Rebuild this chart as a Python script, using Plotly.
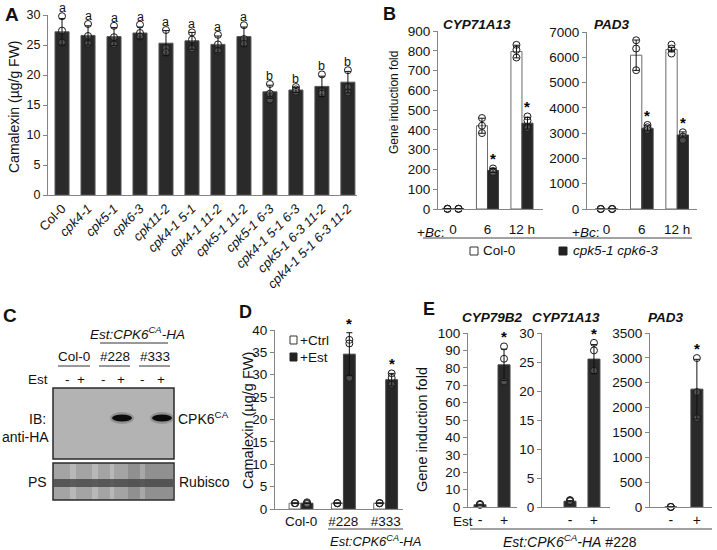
import plotly.graph_objects as go

W, H = 717, 550
FONT = "Liberation Sans, Arial, sans-serif"
TXT = "#111111"
AX = "#858585"

def px(x):
    return x / W

def py(y):
    return 1 - y / H

# ---------------- DATA ----------------
# Panel A
A_genotypes = ["Col-0", "cpk4-1", "cpk5-1", "cpk6-3", "cpk11-2", "cpk4-1 5-1", "cpk4-1 11-2",
               "cpk5-1 11-2", "cpk5-1 6-3", "cpk4-1 5-1 6-3", "cpk5-1 6-3 11-2", "cpk4-1 5-1 6-3 11-2"]
A_mean = [27.2, 26.6, 26.4, 27.0, 25.3, 25.7, 25.1, 26.4, 17.2, 17.5, 18.1, 18.8]
A_err = [2.2, 1.6, 1.5, 1.0, 2.1, 1.4, 1.4, 1.6, 1.1, 0.4, 1.7, 1.8]
A_reps = [[29.8, 27.4, 25.4], [28.5, 26.5, 25.2], [28.2, 26.3, 25.1], [28.4, 27.0, 26.4],
          [27.5, 24.5, 23.8], [27.1, 25.9, 24.4], [26.7, 25.1, 24.0], [28.3, 26.0, 25.2],
          [18.5, 16.9, 15.9], [18.0, 17.6, 17.2], [20.1, 17.3, 16.9], [20.8, 18.0, 17.1]]
A_letters = ["a", "a", "a", "a", "a", "a", "a", "a", "b", "b", "b", "b"]

# Panel B
B_times = ["0", "6", "12 h"]
B_genes = ["CYP71A13", "PAD3"]
B_col_mean = {"CYP71A13": [1, 421, 796], "PAD3": [1, 6082, 6306]}
B_col_err = {"CYP71A13": [0, 38, 32], "PAD3": [0, 600, 90]}
B_col_reps = {"CYP71A13": [[1, 1, 1], [460, 421, 384], [830, 805, 766]],
              "PAD3": [[1, 1, 1], [6673, 6346, 5491], [6500, 6346, 6149]]}
B_mut_mean = {"CYP71A13": [1, 195, 434], "PAD3": [1, 3193, 2929]}
B_mut_err = {"CYP71A13": [0, 10, 30], "PAD3": [0, 100, 120]}
B_mut_reps = {"CYP71A13": [[1, 1, 1], [205, 192, 185], [468, 447, 409]],
              "PAD3": [[1, 1, 1], [3324, 3232, 3127], [3034, 2863, 2731]]}
B_mut_sig = [False, True, True]
B_legend = ["Col-0", "cpk5-1 cpk6-3"]

# Panel C (western blot lanes)
C_lines = ["Col-0", "#228", "#333"]
C_est = ["-", "+", "-", "+", "-", "+"]

# Panel D
D_lines = ["Col-0", "#228", "#333"]
D_ctrl_mean = [1.3, 1.3, 1.3]
D_ctrl_err = [0.1, 0.1, 0.1]
D_ctrl_reps = [[1.3, 1.3, 1.3], [1.3, 1.3, 1.3], [1.3, 1.3, 1.3]]
D_est_mean = [1.3, 34.6, 28.9]
D_est_err = [0.1, 4.8, 1.4]
D_est_reps = [[1.5, 1.3, 1.1], [37.8, 37.0, 29.3], [30.3, 29.3, 27.8]]
D_sig = [False, True, True]
D_legend = ["+Ctrl", "+Est"]

# Panel E
E_genes = ["CYP79B2", "CYP71A13", "PAD3"]
E_est = ["-", "+"]
E_minus_mean = [1.3, 1.0, 1.0]
E_minus_err = [0.3, 0.1, 0.0]
E_minus_reps = [[1.7, 1.5, 1.2], [1.2, 1.1, 1.0], [1, 1, 1]]
E_plus_mean = [81.7, 25.5, 2371]
E_plus_err = [9.0, 2.5, 600]
E_plus_reps = [[92.3, 85.2, 72.1], [28.3, 27.0, 23.5], [2996, 2311, 1787]]
E_ymax = [100, 30, 3500]
E_dtick = [10, 5, 500]

# ---------------- FIGURE ----------------
fig = go.Figure()
layout_axes = {}
annotations = []
shapes = []

def axis_setup(n, xdom, ydom, xrange, yrange, dtick, tickvals, ticktext, xfont=13, yfont=12,
               tickangle=0, standoff=None):
    xs = "xaxis" if n == 1 else f"xaxis{n}"
    ys = "yaxis" if n == 1 else f"yaxis{n}"
    xa = "x" if n == 1 else f"x{n}"
    ya = "y" if n == 1 else f"y{n}"
    xd = dict(domain=[px(xdom[0]), px(xdom[1])], range=xrange, anchor=ya, showgrid=False,
              zeroline=False, showline=True, linecolor=AX, linewidth=1, ticks="",
              tickvals=tickvals, ticktext=ticktext, tickangle=tickangle, automargin=False,
              tickfont=dict(family=FONT, size=xfont, color=TXT), fixedrange=True)
    if standoff is not None:
        xd["ticklabelstandoff"] = standoff
    layout_axes[xs] = xd
    layout_axes[ys] = dict(domain=[py(ydom[1]), py(ydom[0])], range=yrange, anchor=xa,
                           showgrid=False, zeroline=False, showline=True, linecolor=AX,
                           linewidth=1, ticks="outside", ticklen=4, tickwidth=1, tickcolor=AX,
                           dtick=dtick, tick0=0, automargin=False,
                           tickfont=dict(family=FONT, size=yfont, color=TXT), fixedrange=True)
    return xa, ya

def bars(xa, ya, xs, vals, fill, line, width):
    fig.add_trace(go.Bar(x=xs, y=vals, width=width, xaxis=xa, yaxis=ya, showlegend=False,
                         marker=dict(color=fill, line=dict(color=line, width=1))))

def points(xa, ya, xs, reps):
    xx, yy = [], []
    for x, r in zip(xs, reps):
        for v in r:
            xx.append(x)
            yy.append(v)
    fig.add_trace(go.Scatter(x=xx, y=yy, mode="markers", xaxis=xa, yaxis=ya, showlegend=False,
                             cliponaxis=False,
                             marker=dict(symbol="circle", size=7, color="rgba(255,255,255,0.18)",
                                         line=dict(color="#1a1a1a", width=1))))

def errs(xa, ya, xs, vals, e):
    fig.add_trace(go.Scatter(x=xs, y=vals, mode="markers", xaxis=xa, yaxis=ya, showlegend=False,
                             cliponaxis=False, marker=dict(size=1, color="rgba(0,0,0,0)"),
                             error_y=dict(type="data", array=e, visible=True, color="#111",
                                          thickness=1, width=3)))

def note(x, y, text, size=13, xref="paper", yref="paper", xanchor="center", yanchor="middle",
         yshift=0, angle=0, color=TXT, pad=1):
    annotations.append(dict(x=x, y=y, xref=xref, yref=yref, text=text, showarrow=False,
                            xanchor=xanchor, yanchor=yanchor, yshift=yshift, textangle=angle,
                            borderpad=pad, font=dict(family=FONT, size=size, color=color)))

def star(xa, ya, x, top):
    note(x, top, "<b>*</b>", size=15, xref=xa, yref=ya, yanchor="bottom", yshift=-1,
         color="#000000")

def line(x0, x1, y, color="#333", width=1):
    shapes.append(dict(type="line", xref="paper", yref="paper", x0=px(x0), x1=px(x1),
                       y0=py(y), y1=py(y), line=dict(color=color, width=width)))

def rect(x0, x1, y0, y1, fill, lc=None, lw=0, opacity=1, kind="rect"):
    shapes.append(dict(type=kind, xref="paper", yref="paper", x0=px(x0), x1=px(x1),
                       y0=py(y1), y1=py(y0), fillcolor=fill, opacity=opacity,
                       line=dict(color=lc or fill, width=lw), layer="above"))

# ----- Panel A -----
A_idx = list(range(len(A_genotypes)))
A_ticktext = [g if g == "Col-0" else f"<i>{g}</i>" for g in A_genotypes]
xa, ya = axis_setup(1, (48, 357), (15, 195), [-0.54, 11.35], [0, 30], 5, A_idx, A_ticktext,
                    xfont=13, yfont=12.5, tickangle=-45)
bars(xa, ya, A_idx, A_mean, "#2a2a2a", "#555", 0.54)
points(xa, ya, A_idx, A_reps)
errs(xa, ya, A_idx, A_mean, A_err)
for i, lab in enumerate(A_letters):
    top = max(max(A_reps[i]), A_mean[i] + A_err[i])
    note(i, top, lab, size=12.5, xref=xa, yref=ya, yanchor="bottom", yshift=0, pad=0)
note(px(14), py(107), "Camalexin (µg/g FW)", size=14, angle=-90)
note(px(12), py(15), "<b>A</b>", size=19)

# ----- Panel B -----
B_idx = list(range(len(B_times)))
B_specs = {"CYP71A13": (2, (438, 543), (31, 209), [-0.435, 2.61], [0, 900], 100),
           "PAD3": (3, (587, 697), (32, 209), [-0.55, 2.56], [0, 7000], 1000)}
for g in B_genes:
    n, xd, yd, xr, yr, dt = B_specs[g]
    xa, ya = axis_setup(n, xd, yd, xr, yr, dt, B_idx, B_times, xfont=13.5, yfont=13.5, standoff=8)
    xc = [i - 0.16 for i in B_idx]
    xm = [i + 0.16 for i in B_idx]
    bars(xa, ya, xc, B_col_mean[g], "#ffffff", "#6a6a6a", 0.32)
    bars(xa, ya, xm, B_mut_mean[g], "#262626", "#444", 0.32)
    points(xa, ya, xc, B_col_reps[g])
    points(xa, ya, xm, B_mut_reps[g])
    errs(xa, ya, xc, B_col_mean[g], B_col_err[g])
    errs(xa, ya, xm, B_mut_mean[g], B_mut_err[g])
    for i, s in enumerate(B_mut_sig):
        if s:
            top = max(max(B_mut_reps[g][i]), B_mut_mean[g][i] + B_mut_err[g][i])
            star(xa, ya, xm[i], top)
note(px(477), py(25), "<b><i>CYP71A13</i></b>", size=13.5)
note(px(612), py(25), "<b><i>PAD3</i></b>", size=13.5)
note(px(430), py(232), "+<i>Bc</i>:", size=13.5)
note(px(585), py(232), "+<i>Bc</i>:", size=13.5)
line(423, 692, 238, color="#444")
rect(470, 478, 247, 255, "#ffffff", lc="#333", lw=1)
note(px(481), py(251), B_legend[0], size=13.5, xanchor="left")
rect(559, 567, 247, 255, "#222222", lc="#222", lw=1)
note(px(571), py(251), f"<i>{B_legend[1]}</i>", size=13.5, xanchor="left")
note(px(394), py(103), "Gene induction fold", size=12, angle=-90)
note(px(389), py(14), "<b>B</b>", size=18)

# ----- Panel C (blot drawing) -----
C_lane_x = [67, 81, 104, 121, 142, 161]
note(px(10), py(315), "<b>C</b>", size=19)
note(px(137), py(333), "<i>Est:CPK6<sup>CA</sup>-HA</i>", size=13.5)
line(100, 168, 343)
for lab, (x0, x1) in zip(C_lines, [(58, 90), (99, 130), (139, 170)]):
    note(px((x0 + x1) / 2), py(356), lab, size=13.5)
    line(x0, x1, 366)
note(px(38), py(379), "Est", size=13.5)
for x, s in zip(C_lane_x, C_est):
    note(px(x), py(379), s, size=13.5)
rect(53, 174, 388, 459, "#b3b3b3", lc="#2a2a2a", lw=1.5)
for x in (122, 162):
    rect(x - 12, x + 12, 412, 424, "#555555", opacity=0.35, kind="circle")
    rect(x - 10, x + 10, 414.5, 421.5, "#0c0c0c", kind="circle")
rect(53, 174, 463, 500, "#a4a4a4", lc="#2a2a2a", lw=1.5)
rect(128, 174, 464, 499, "#6e6e6e", opacity=0.35)
for x0, x1 in [(70, 76), (92, 98), (110, 114), (140, 145)]:
    rect(x0, x1, 464, 499, "#ffffff", opacity=0.22)
rect(54, 173, 479, 487, "#4a4a4a", opacity=0.85)
note(px(37), py(419), "IB:", size=14)
note(px(26), py(437), "anti-HA", size=14)
note(px(176), py(418), "CPK6<sup>CA</sup>", size=14, xanchor="left")
note(px(37), py(482), "PS", size=14)
note(px(177), py(482), "Rubisco", size=14, xanchor="left")

# ----- Panel D -----
D_idx = list(range(len(D_lines)))
xa, ya = axis_setup(4, (275, 403), (330, 509), [-0.615, 2.41], [0, 40], 5, D_idx, D_lines,
                    xfont=13.5, yfont=13.5)
xc = [i - 0.142 for i in D_idx]
xe = [i + 0.142 for i in D_idx]
bars(xa, ya, xc, D_ctrl_mean, "#ffffff", "#6a6a6a", 0.28)
bars(xa, ya, xe, D_est_mean, "#262626", "#444", 0.28)
points(xa, ya, xc, D_ctrl_reps)
points(xa, ya, xe, D_est_reps)
errs(xa, ya, xc, D_ctrl_mean, D_ctrl_err)
errs(xa, ya, xe, D_est_mean, D_est_err)
for i, s in enumerate(D_sig):
    if s:
        top = max(max(D_est_reps[i]), D_est_mean[i] + D_est_err[i])
        star(xa, ya, xe[i], top)
rect(290, 297, 336, 344, "#ffffff", lc="#333", lw=1)
note(px(298), py(340), D_legend[0], size=13.5, xanchor="left")
rect(290, 297, 353, 361, "#222222", lc="#222", lw=1)
note(px(298), py(357), D_legend[1], size=13.5, xanchor="left")
line(328, 403, 529, color="#444")
note(px(328), py(541), "<i>Est:CPK6<sup>CA</sup>-HA</i>", size=13, xanchor="left")
note(px(248), py(421), "Camalexin (µg/g FW)", size=14.5, angle=-90)
note(px(245), py(312), "<b>D</b>", size=18)

# ----- Panel E -----
E_specs = [((468, 517), [-0.5, 1.54], 0.5),
           ((542, 610), [-1.17, 1.67], 0.5),
           ((650, 712), [-0.8, 1.58], 0.46)]
E_title_x = [492, 566, 666]
for k, g in enumerate(E_genes):
    xd, xr, w = E_specs[k]
    xa, ya = axis_setup(5 + k, xd, (333, 507), xr, [0, E_ymax[k]], E_dtick[k], [0, 1], E_est,
                        xfont=14, yfont=13.5)
    bars(xa, ya, [0, 1], [E_minus_mean[k], E_plus_mean[k]], "#2a2a2a", "#444", w)
    points(xa, ya, [0, 1], [E_minus_reps[k], E_plus_reps[k]])
    errs(xa, ya, [0, 1], [E_minus_mean[k], E_plus_mean[k]], [E_minus_err[k], E_plus_err[k]])
    top = max(max(E_plus_reps[k]), E_plus_mean[k] + E_plus_err[k])
    star(xa, ya, 1, top)
    note(px(E_title_x[k]), py(317), f"<b><i>{g}</i></b>", size=13.5)
note(px(463), py(521), "Est", size=13.5)
line(470, 712, 529, color="#444")
note(px(570), py(541), "<i>Est:CPK6<sup>CA</sup>-HA</i> #228", size=14)
note(px(422), py(430), "Gene induction fold", size=14.5, angle=-90)
note(px(429), py(309), "<b>E</b>", size=18)

fig.update_layout(width=W, height=H, margin=dict(l=0, r=0, t=0, b=0, pad=0), autosize=False,
                  template="none",
                  paper_bgcolor="white", plot_bgcolor="rgba(0,0,0,0)", barmode="overlay",
                  showlegend=False, annotations=annotations, shapes=shapes,
                  font=dict(family=FONT, color=TXT), **layout_axes)
fig.write_html("out.html", include_plotlyjs=True, config={"displayModeBar": False},
               post_script="document.body.style.margin='0';document.body.style.padding='0';")
